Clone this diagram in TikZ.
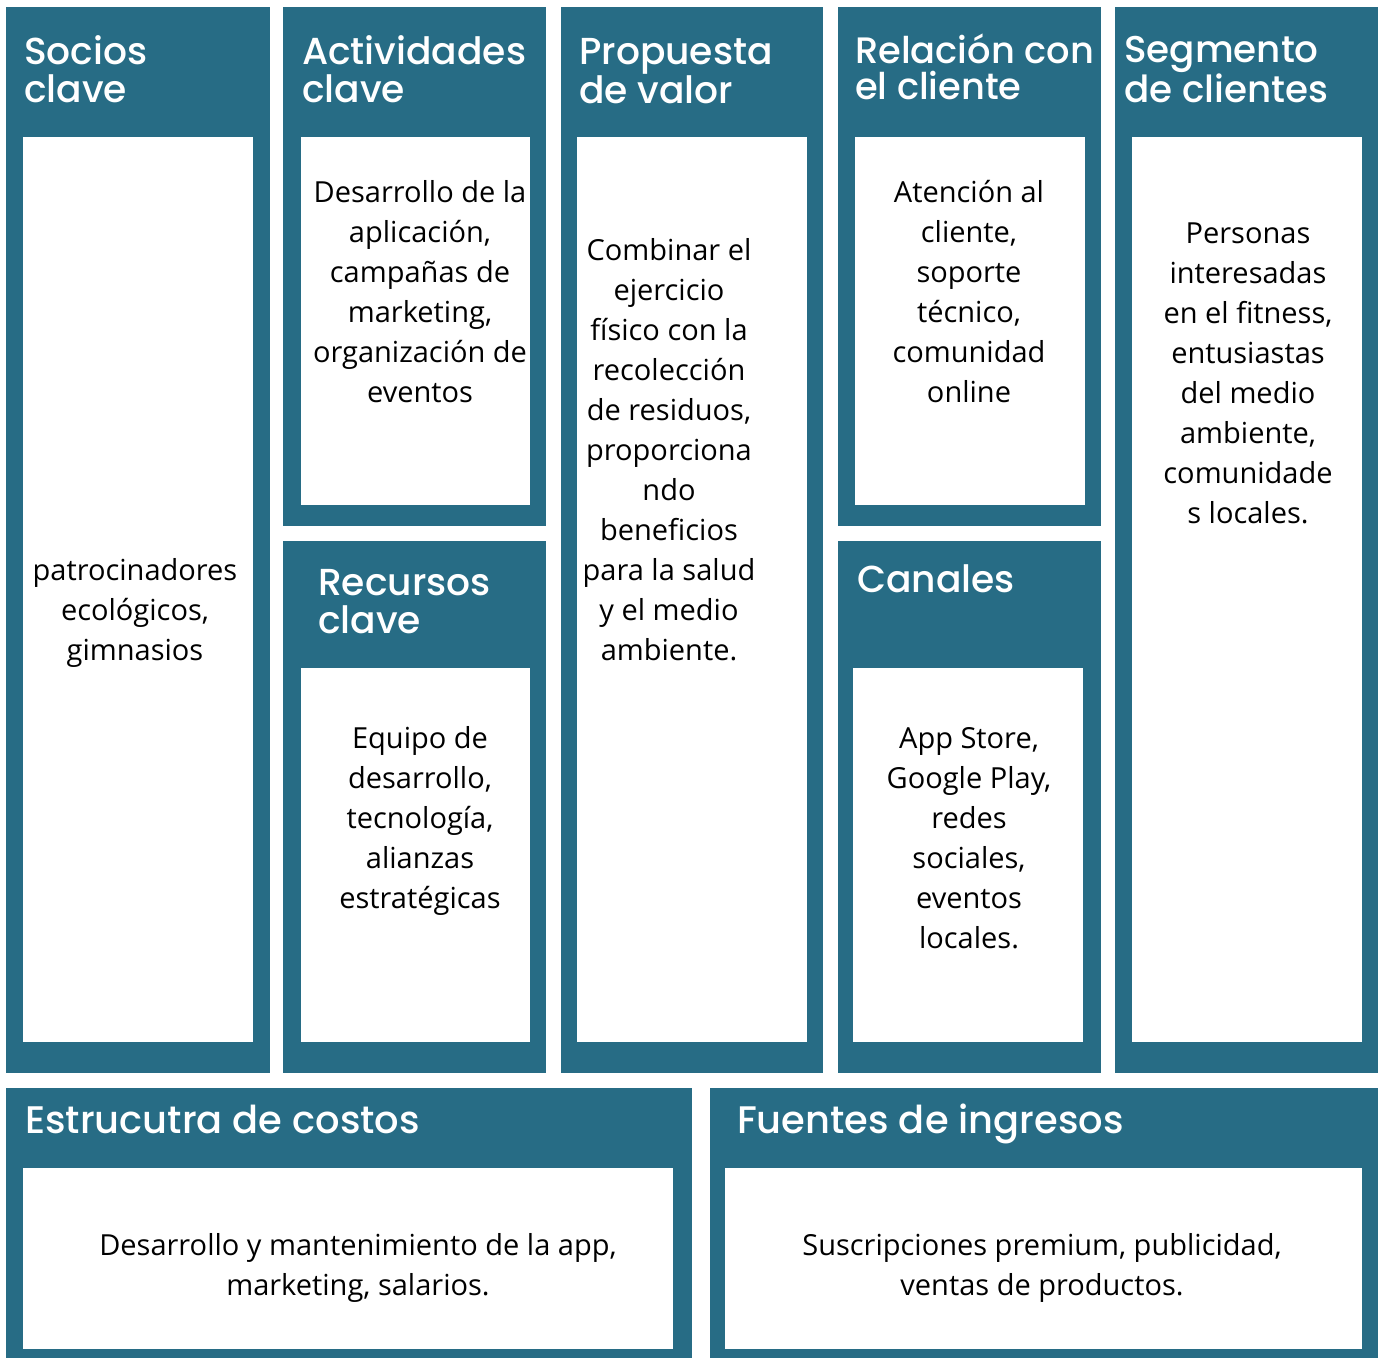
\documentclass[tikz,border=0pt]{standalone}
\usepackage{fontspec}
\setmainfont{Open Sans}
\newfontfamily\headfont{Poppins Medium}
\definecolor{bmc}{RGB}{39,108,133}
\begin{document}
\begin{tikzpicture}[x=1pt,y=-1pt,
  outerbox/.style={fill=bmc},
  innerbox/.style={fill=white},
  head/.style={anchor=base west, text=white, font=\headfont\fontsize{37.6}{37.5}\selectfont, align=left, inner sep=0pt},
  body/.style={font=\fontsize{29}{40}\selectfont, align=center, inner sep=0pt, text=black}]
\useasboundingbox (0,0) rectangle (1386,1358);
% outer boxes
\fill[outerbox] (6,7) rectangle (270,1073);
\fill[outerbox] (283,7) rectangle (546,526);
\fill[outerbox] (283,541) rectangle (546,1073);
\fill[outerbox] (561,7) rectangle (823,1073);
\fill[outerbox] (838,7) rectangle (1101,526);
\fill[outerbox] (838,541) rectangle (1101,1073);
\fill[outerbox] (1115,7) rectangle (1378,1073);
\fill[outerbox] (6,1088) rectangle (692,1358);
\fill[outerbox] (710,1088) rectangle (1378,1358);
% inner boxes
\fill[innerbox] (23,137) rectangle (253,1042);
\fill[innerbox] (301,137) rectangle (530,505);
\fill[innerbox] (301,668) rectangle (530,1042);
\fill[innerbox] (577,137) rectangle (807,1042);
\fill[innerbox] (855,137) rectangle (1085,505);
\fill[innerbox] (853,668) rectangle (1083,1042);
\fill[innerbox] (1132,137) rectangle (1362,1042);
\fill[innerbox] (23,1168) rectangle (673,1349);
\fill[innerbox] (725,1168) rectangle (1362,1349);
% headings (anchor = baseline of last line)
\node[head] (hsocios) at (24,102) {Socios\\clave};
\node[head] (hact) at (302,102) {Actividades\\clave};
\node[head] (hprop) at (579,103) {Propuesta\\de valor};
\node[head, font=\headfont\fontsize{36.8}{36}\selectfont] (hrel) at (855,99) {Relación con\\el cliente};
\node[head, font=\headfont\fontsize{37.3}{35}\selectfont] (hseg) at (1124,102) {Segmento\\de clientes};
\node[head] (hrec) at (318,633) {Recursos\\clave};
\node[head] (hcan) at (857,592) {Canales};
\node[head, font=\headfont\fontsize{38.4}{38}\selectfont] (hcost) at (25,1133) {Estrucutra de costos};
\node[head, font=\headfont\fontsize{38.4}{38}\selectfont] (hing) at (737,1133) {Fuentes de ingresos};
% body texts
\node[body] (tsocios) at (135,613) {patrocinadores\\ecológicos,\\gimnasios};
\node[body] (tact) at (420,292) {Desarrollo de la\\aplicación,\\campañas de\\marketing,\\organización de\\eventos};
\node[body] (tprop) at (669,450) {Combinar el\\ejercicio\\físico con la\\recolección\\de residuos,\\proporciona\\ndo\\beneficios\\para la salud\\y el medio\\ambiente.};
\node[body] (trel) at (969,292) {Atención al\\cliente,\\soporte\\técnico,\\comunidad\\online};
\node[body] (tseg) at (1248,373) {Personas\\interesadas\\en el fitness,\\entusiastas\\del medio\\ambiente,\\comunidade\\s locales.};
\node[body] (trec) at (420,821) {Equipo de\\desarrollo,\\tecnología,\\alianzas\\estratégicas};
\node[body] (tcan) at (969,838) {App Store,\\Google Play,\\redes\\sociales,\\eventos\\locales.};
\node[body] (tcost) at (358,1268) {Desarrollo y mantenimiento de la app,\\marketing, salarios.};
\node[body] (ting) at (1042,1268) {Suscripciones premium, publicidad,\\ventas de productos.};
\end{tikzpicture}
\end{document}
